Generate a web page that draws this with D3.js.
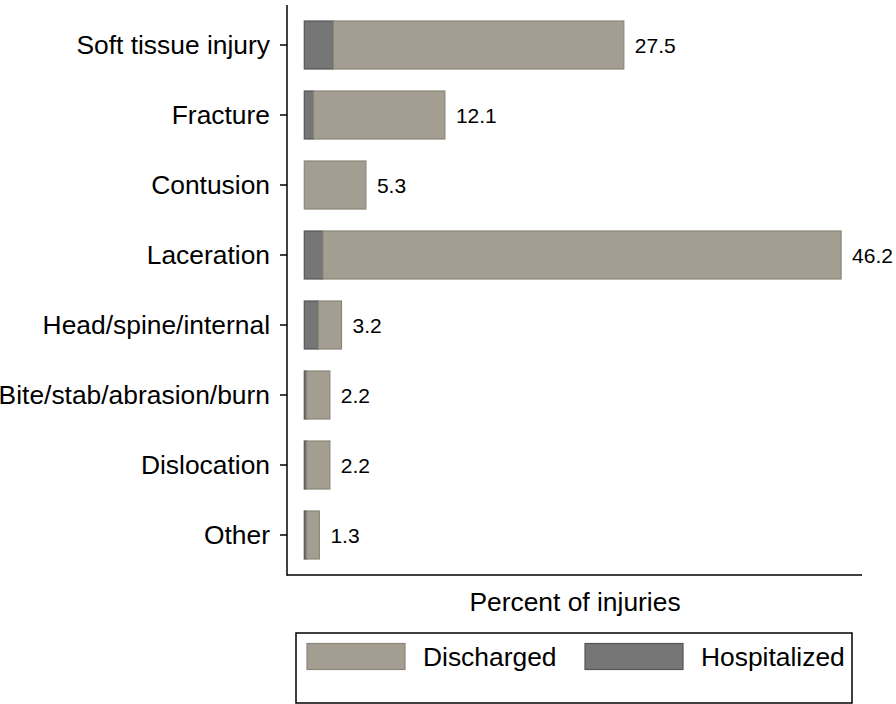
<!DOCTYPE html>
<html>
<head>
<meta charset="utf-8">
<script src="https://cdn.jsdelivr.net/npm/d3@7"></script>
<style>
  html, body { margin: 0; padding: 0; background: #fff; }
  svg { display: block; font-family: "Liberation Sans", Arial, Helvetica, sans-serif; }
</style>
</head>
<body>
<svg id="chart" width="896" height="704"></svg>
<script>
const categories = ["Soft tissue injury", "Fracture", "Contusion", "Laceration",
  "Head/spine/internal", "Bite/stab/abrasion/burn", "Dislocation", "Other"];
const hospitalized = [2.5, 0.8, 0.0, 1.6, 1.2, 0.2, 0.2, 0.2];
const discharged   = [25.0, 11.3, 5.3, 44.6, 2.0, 2.0, 2.0, 1.1];
const seriesNames = ["Discharged", "Hospitalized"];

const colors = {
  Discharged:   { fill: "#a39d92", stroke: "#8b8679" },
  Hospitalized: { fill: "#767676", stroke: "#555555" }
};

const svg = d3.select("#chart");

const axisX = 287, axisTop = 5, axisBottom = 575, axisRight = 862;

const x = d3.scaleLinear().domain([0, 48]).range([304.3, 862]);
const y = d3.scaleBand().domain(categories).range([10, 570])
  .paddingInner(0.3).paddingOuter(0.15);

const rows = categories.map((c, i) => ({
  cat: c, Hospitalized: hospitalized[i], Discharged: discharged[i]
}));
const stack = d3.stack().keys(["Hospitalized", "Discharged"]);
const stacked = stack(rows);

const g = svg.append("g");
stacked.forEach(layer => {
  const key = layer.key;
  g.selectAll(null).data(layer.filter(d => d[1] - d[0] > 0)).enter().append("rect")
    .attr("x", d => x(d[0]))
    .attr("y", d => y(d.data.cat) + 0.5)
    .attr("width", d => x(d[1]) - x(d[0]))
    .attr("height", y.bandwidth() - 1)
    .attr("fill", colors[key].fill)
    .attr("stroke", colors[key].stroke)
    .attr("stroke-width", 1.2);
});

// value labels (totals)
g.selectAll(null).data(rows).enter().append("text")
  .attr("x", d => x(d.Hospitalized + d.Discharged) + 11)
  .attr("y", d => y(d.cat) + y.bandwidth() / 2 + 7.5)
  .attr("font-size", 21)
  .attr("fill", "#000")
  .text(d => (d.Hospitalized + d.Discharged).toFixed(1));

// y axis
const yAxis = d3.axisLeft(y).tickSize(7).tickSizeOuter(0).tickPadding(10);
const ya = svg.append("g").attr("transform", `translate(${axisX},0)`).call(yAxis);
ya.select(".domain").remove();
ya.selectAll(".tick line").attr("stroke", "#000").attr("stroke-width", 1.5);
ya.selectAll(".tick text").attr("font-size", 26.4).attr("fill", "#000")
  .attr("font-family", "Liberation Sans, Arial, sans-serif").attr("dy", "0.35em");

svg.append("line").attr("x1", axisX).attr("x2", axisX).attr("y1", axisTop).attr("y2", axisBottom + 0.75)
  .attr("stroke", "#000").attr("stroke-width", 1.5);
svg.append("line").attr("x1", axisX).attr("x2", axisRight).attr("y1", axisBottom).attr("y2", axisBottom)
  .attr("stroke", "#000").attr("stroke-width", 1.5);

// x axis title
svg.append("text").attr("x", 575).attr("y", 611).attr("text-anchor", "middle")
  .attr("font-size", 26.4).attr("fill", "#000").text("Percent of injuries");

// legend
const leg = svg.append("g");
leg.append("rect").attr("x", 296).attr("y", 633).attr("width", 556).attr("height", 70)
  .attr("fill", "#fff").attr("stroke", "#000").attr("stroke-width", 1.5);
const legPos = [{ sx: 307, tx: 423 }, { sx: 585, tx: 701 }];
seriesNames.forEach((name, i) => {
  leg.append("rect").attr("x", legPos[i].sx).attr("y", 643.5).attr("width", 98).attr("height", 26)
    .attr("fill", colors[name].fill).attr("stroke", colors[name].stroke).attr("stroke-width", 1.2);
  leg.append("text").attr("x", legPos[i].tx).attr("y", 666).attr("font-size", 26.4)
    .attr("fill", "#000").text(name);
});
</script>
</body>
</html>
